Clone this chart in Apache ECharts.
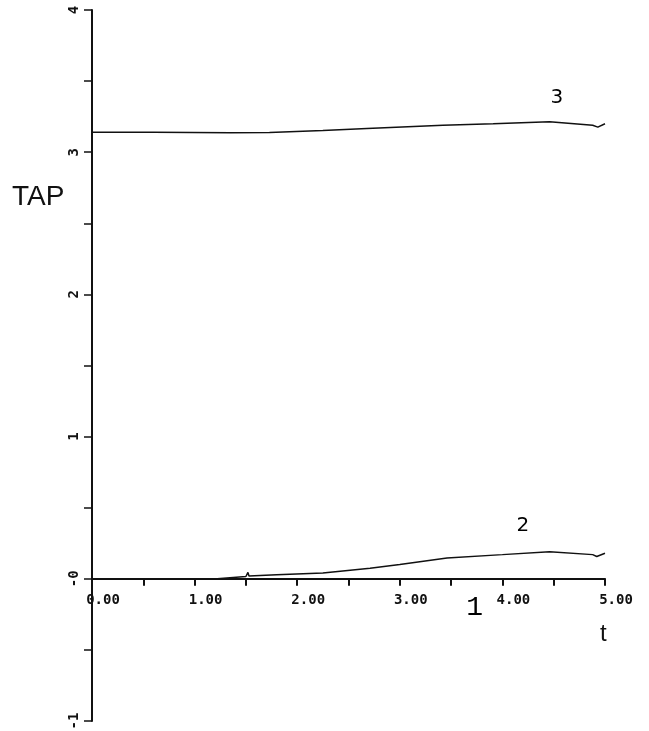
<!DOCTYPE html>
<html>
<head>
<meta charset="utf-8">
<script src="https://cdn.jsdelivr.net/npm/echarts@6/dist/echarts.min.js"></script>
<style>
  html, body { margin: 0; padding: 0; background: #fff; }
  #chart { width: 649px; height: 731px; }
</style>
</head>
<body>
<div id="chart"></div>
<script>
// Time samples and the three TAP curves
const curve1 = [[0, 0], [1, 0], [2, 0], [3, 0], [4, 0], [5, 0]];
const curve2 = [
  [0, 0], [1.0, 0], [1.22, 0], [1.5, 0.016], [1.52, 0.045], [1.53, 0.02],
  [1.8, 0.028], [2.25, 0.04], [2.71, 0.075], [3.0, 0.10],
  [3.46, 0.147], [4.0, 0.17], [4.46, 0.19], [4.88, 0.17], [4.92, 0.157], [5.0, 0.18]
];
const curve3 = [
  [0, 3.141], [0.6, 3.140], [1.35, 3.137], [1.73, 3.139], [2.25, 3.153],
  [2.68, 3.167], [3.42, 3.19], [3.91, 3.20], [4.46, 3.214],
  [4.88, 3.19], [4.93, 3.176], [5.0, 3.20]
];

// Curve number tags, placed in data coordinates
const curveTags = [
  { text: '3', at: [4.53, 3.385] },
  { text: '2', at: [4.20, 0.372] },
  { text: '1', at: [3.73, -0.2] }
];

const xTicks = { min: 0, max: 5, step: 0.5 };
const yTicks = { min: -1, max: 4, step: 0.5 };

const plotTop = 10, plotBottom = 10, chartHeight = 731;
const unitPx = (chartHeight - plotTop - plotBottom) / (yTicks.max - yTicks.min);

const chart = echarts.init(document.getElementById('chart'));

function lineSeries(data) {
  return {
    type: 'line',
    data: data,
    showSymbol: false,
    silent: true,
    lineStyle: { color: '#111', width: 1.5 },
    animation: false
  };
}

// invisible points carrying the curve numbers as labels
const tagSeries = {
  type: 'scatter',
  silent: true,
  symbolSize: 1,
  itemStyle: { color: 'rgba(255,255,255,0)' },
  data: curveTags.map((t, i) => ({
    value: t.at,
    label: {
      show: true,
      position: 'inside',
      formatter: t.text,
      color: '#000',
      opacity: 1,
      fontFamily: i === 2 ? '"Liberation Mono"' : '"DejaVu Sans"',
      fontWeight: 'normal',
      fontSize: i === 2 ? 28 : 20
    }
  }))
};

chart.setOption({
  animation: false,
  backgroundColor: '#fff',
  grid: {
    left: 92, right: 44, top: plotTop, bottom: plotBottom,
    containLabel: false, outerBoundsMode: 'none'
  },
  xAxis: {
    type: 'value',
    min: xTicks.min, max: xTicks.max, interval: xTicks.step,
    // lift the axis from the bottom edge up to the zero line
    offset: -unitPx * (0 - yTicks.min),
    splitLine: { show: false },
    axisLine: { onZero: false, lineStyle: { color: '#111', width: 2 } },
    axisTick: { show: true, inside: false, length: 7, lineStyle: { color: '#111', width: 2 } },
    axisLabel: {
      color: '#111',
      fontFamily: 'DejaVu Sans Mono',
      fontWeight: 'bold',
      fontSize: 14,
      margin: 15,
      padding: [0, 0, 0, 22],
      formatter: v => (Math.abs(v - Math.round(v)) < 1e-9 ? v.toFixed(2) : '')
    }
  },
  yAxis: {
    type: 'value',
    min: yTicks.min, max: yTicks.max, interval: yTicks.step,
    splitLine: { show: false },
    axisLine: { onZero: false, lineStyle: { color: '#111', width: 2 } },
    axisTick: { show: true, inside: false, length: 8, lineStyle: { color: '#111', width: 1.5 } },
    axisLabel: {
      color: '#111',
      fontFamily: 'DejaVu Sans Mono',
      fontWeight: 'bold',
      fontSize: 14,
      rotate: 90,
      margin: 11,
      formatter: v => {
        if (Math.abs(v - Math.round(v)) > 1e-9) return '';
        return v === 0 ? '-0' : String(v);
      }
    }
  },
  series: [
    lineSeries(curve1),
    lineSeries(curve2),
    lineSeries(curve3),
    tagSeries
  ],
  graphic: [
    {
      type: 'text', left: 12, top: 183,
      style: { text: 'TAP', fill: '#111', font: '28px "Liberation Sans"' }
    },
    {
      type: 'text', left: 600, top: 622,
      style: { text: 't', fill: '#111', font: '24px "Liberation Sans"' }
    }
  ]
});
</script>
</body>
</html>
